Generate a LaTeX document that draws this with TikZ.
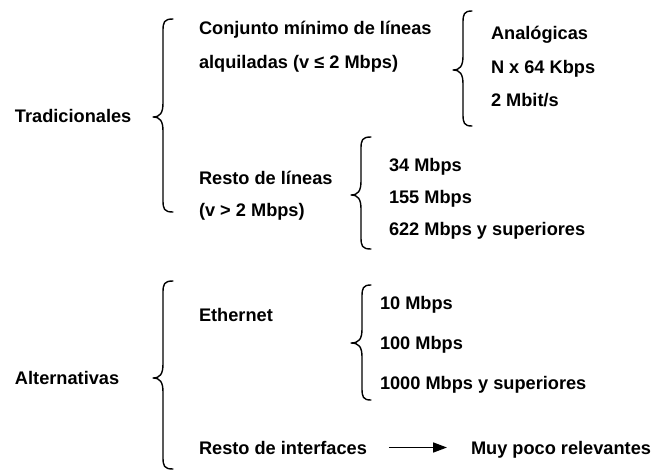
\documentclass[tikz,border=0pt]{standalone}
\usepackage{fontspec}
\setmainfont{Liberation Sans}
\usetikzlibrary{arrows.meta}
\newcommand\wbrace[6]{% end x, vertical x, tip x, top y, tip y, bottom y
  \draw[bracestyle] (#1,#4) .. controls (#2+1,#4) and (#2,#4+3) .. (#2,#4+12)
    -- (#2,#5-14) .. controls (#2,#5-4) and (#2-3,#5) .. (#3,#5)
    .. controls (#2-3,#5) and (#2,#5+4) .. (#2,#5+14)
    -- (#2,#6-12) .. controls (#2,#6-3) and (#2+1,#6) .. (#1,#6);}
\begin{document}
\begin{tikzpicture}[x=1pt,y=-1pt,
  lbl/.style={anchor=base west,inner sep=0pt,outer sep=0pt,
    font=\fontsize{18.2}{22}\selectfont\bfseries},
  bracestyle/.style={line width=1.4pt,line cap=round,line join=round},
  arrowstyle/.style={line width=1.7pt,-{Triangle[length=14pt,width=10pt]}}]
\useasboundingbox[fill=white] (0,0) rectangle (651,472);
% level 0
\node[lbl] (trad) at (15,122) {Tradicionales};
\node[lbl] (alt) at (15,384) {Alternativas};
% level 1
\node[lbl] (conj) at (199,34) {Conjunto mínimo de líneas};
\node[lbl] (alq) at (199,68) {alquiladas (v ≤ 2 Mbps)};
\node[lbl] (resto1) at (199,184) {Resto de líneas};
\node[lbl] (vgt) at (199,216) {(v > 2 Mbps)};
\node[lbl] (eth) at (199,321) {Ethernet};
\node[lbl] (resto2) at (199,454) {Resto de interfaces};
% level 2
\node[lbl] (ana) at (491,39) {Analógicas};
\node[lbl] (nx) at (491,73) {N x 64 Kbps};
\node[lbl] (mbit) at (491,106) {2 Mbit/s};
\node[lbl] (m34) at (389,171) {34 Mbps};
\node[lbl] (m155) at (389,203) {155 Mbps};
\node[lbl] (m622) at (389,235) {622 Mbps y superiores};
\node[lbl] (m10) at (380,309) {10 Mbps};
\node[lbl] (m100) at (380,349) {100 Mbps};
\node[lbl] (m1000) at (380,389) {1000 Mbps y superiores};
\node[lbl] (muy) at (471,454) {Muy poco relevantes};
% braces
\wbrace{173}{163}{153}{19}{117}{212}
\wbrace{472}{463}{453}{11}{70}{126}
\wbrace{371}{361}{351}{137}{195}{249}
\wbrace{173}{163}{153}{281}{378}{469}
\wbrace{371}{362}{351}{285}{343}{400}
% arrow
\draw[arrowstyle,shorten <=22pt,shorten >=24pt] (resto2.east) -- (resto2.east -| muy.west);
\end{tikzpicture}
\end{document}
